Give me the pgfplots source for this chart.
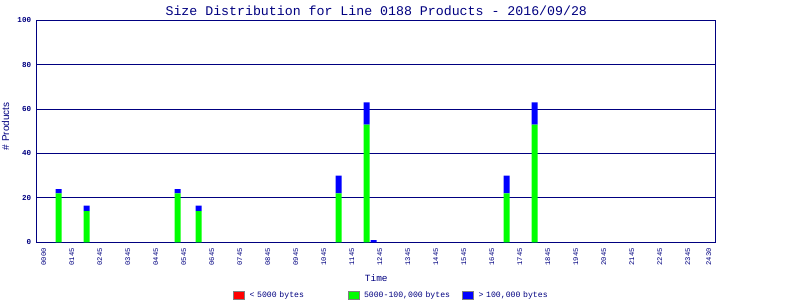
\documentclass[border=0pt]{standalone}
\usepackage{pgfplots}
\pgfplotsset{compat=1.18}
\usepackage{fontspec}
\setmainfont{Liberation Mono}
\newfontfamily\sansf{Liberation Sans}
\definecolor{navy}{RGB}{0,0,128}
\definecolor{bgreen}{RGB}{0,255,0}
\definecolor{bblue}{RGB}{0,0,255}
\definecolor{bred}{RGB}{255,0,0}
\begin{document}
\begin{tikzpicture}
\useasboundingbox (0bp,0bp) rectangle (800bp,-300bp);
\begin{axis}[
  at={(36.8bp,-242.3bp)}, anchor=south west,
  scale only axis, width=679bp, height=222bp,
  xmin=-1, xmax=96, ymin=0, ymax=100,
  ybar stacked, bar width=6bp, bar shift=0.7bp,
  axis line style={navy, line width=1bp},
  ymajorgrids, major grid style={draw=navy, line width=1bp},
  major tick length=0pt,
  xtick={0,4,8,12,16,20,24,28,32,36,40,44,48,52,56,60,64,68,72,76,80,84,88,92,95},
  xticklabels={0000,0145,0245,0345,0445,0545,0645,0745,0845,0945,1045,1145,1245,1345,1445,1545,1645,1745,1845,1945,2045,2145,2245,2345,2430},
  xticklabel style={rotate=90, anchor=east, inner sep=0pt, xshift=-5.7bp, font=\fontsize{7.2}{7.2}\selectfont, text=navy},
  ytick={0,20,40,60,80,100},
  yticklabels={0,20,40,60,80,100},
  yticklabel style={anchor=east, inner sep=0pt, xshift=-5.5bp, font=\fontsize{7.6}{7.6}\selectfont\bfseries, text=navy},
  every axis y label/.style={at={(axis description cs:0,0.5)}, rotate=90, anchor=center, xshift=5bp, yshift=31.3bp},
  ylabel={\sansf\fontsize{10}{10}\selectfont\color{navy}\# Products},
  every axis x label/.style={at={(axis description cs:0.5,0)}, anchor=center, yshift=-35.7bp},
  xlabel={\fontsize{9.5}{9.5}\selectfont\color{navy}Time},
  every axis title/.style={at={(axis description cs:0.5,1)}, anchor=base, yshift=5.3bp},
  title={\fontsize{13.3}{13.3}\selectfont\color{navy}Size Distribution for Line 0188 Products - 2016/09/28},
  legend image code/.code={\draw[#1, draw=gray, line width=1bp] (0bp,-3.8bp) rectangle (11bp,3.8bp);},
  legend columns=3,
  legend style={draw=none, fill=none, inner sep=0pt, column sep=0pt,
    at={(0.2887,-0.2396)}, anchor=west,
    nodes={inner sep=0pt, text width=98bp, align=left, font=\fontsize{8.2}{8.2}\selectfont, text=navy},
    /tikz/every odd column/.style={column sep=4.5bp}},
]
\addplot[fill=bred, draw=none] coordinates {(2,0) (6,0) (19,0) (22,0) (42,0) (46,0) (47,0) (66,0) (70,0)};
\addplot[fill=bgreen, draw=none] coordinates {(2,22) (6,14) (19,22) (22,14) (42,22) (46,53) (47,0) (66,22) (70,53)};
\addplot[fill=bblue, draw=none] coordinates {(2,2) (6,2.5) (19,2) (22,2.5) (42,8) (46,10) (47,1) (66,8) (70,10)};
\legend{< 5000 bytes, 5000-100{,}000 bytes, > 100{,}000 bytes}
\end{axis}
\end{tikzpicture}
\end{document}
